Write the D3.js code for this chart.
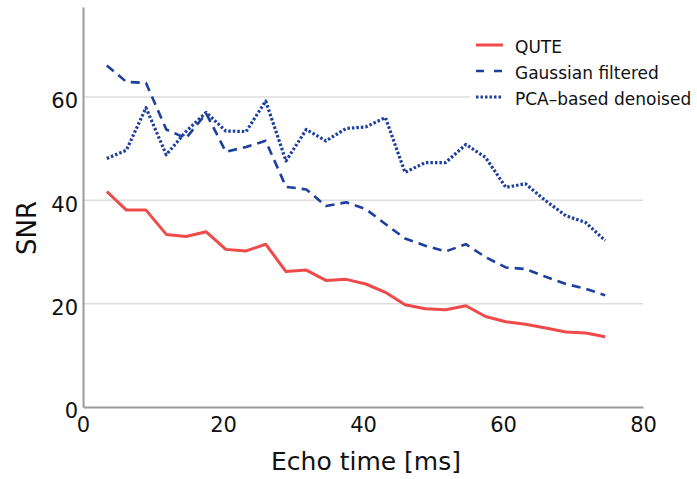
<!DOCTYPE html>
<html>
<head>
<meta charset="utf-8">
<script src="https://cdn.jsdelivr.net/npm/d3@7"></script>
<style>
  body { margin: 0; background: #fff; }
  svg { display: block; font-family: 'DejaVu Sans', sans-serif; }
</style>
</head>
<body>
<svg id="chart" width="697" height="479"></svg>
<script>
// echo times [ms]
var echoTimes = [3.4, 6.2, 9.0, 11.9, 14.7, 17.6, 20.4, 23.3, 26.1, 29.0, 31.9, 34.7, 37.6,
  40.4, 43.2, 46.0, 48.9, 51.8, 54.7, 57.5, 60.4, 63.2, 66.1, 69.0, 71.8, 74.6]

var quteSnr = [41.7, 38.1, 38.1, 33.4, 33.0, 33.9, 30.5, 30.2, 31.5, 26.2, 26.5, 24.5, 24.7,
  23.8, 22.2, 19.8, 19.0, 18.8, 19.6, 17.5, 16.5, 16.0, 15.3, 14.5, 14.3, 13.6]

var gaussSnr = [66.1, 62.9, 62.7, 53.7, 52.0, 56.8, 49.4, 50.3, 51.5, 42.6, 42.1, 38.9, 39.6,
  38.3, 35.4, 32.6, 31.2, 30.1, 31.5, 29.0, 27.0, 26.7, 25.2, 23.8, 22.9, 21.6]

var pcaSnr = [48.1, 49.7, 57.9, 48.8, 53.3, 57.0, 53.4, 53.3, 59.2, 47.6, 53.7, 51.5, 53.9,
  54.2, 56.0, 45.4, 47.3, 47.3, 50.8, 48.3, 42.5, 43.2, 39.9, 37.0, 35.7, 32.2]

var seriesNames = ['QUTE', 'Gaussian filtered', 'PCA\u2013based denoised']
var xTicks = [0, 20, 40, 60, 80]
var yTicks = [0, 20, 40, 60]

var series = [
  { name: seriesNames[0], values: quteSnr, color: '#ef4a4a', width: 3, dash: null },
  { name: seriesNames[1], values: gaussSnr, color: '#1d3f9e', width: 2.6, dash: '9,6' },
  { name: seriesNames[2], values: pcaSnr, color: '#1d3f9e', width: 3.2, dash: '2.5,2' }
]

var svg = d3.select('#chart')

var x = d3.scaleLinear().domain([0, 80]).range([83, 643])
var y = d3.scaleLinear().domain([0, 77.4]).range([407, 7])

// gridlines
svg.append('g')
  .selectAll('line')
  .data(yTicks.filter(function (d) { return d > 0 }))
  .enter().append('line')
  .attr('x1', x(0))
  .attr('x2', x(80))
  .attr('y1', function (d) { return y(d) })
  .attr('y2', function (d) { return y(d) })
  .attr('stroke', '#dedede')
  .attr('stroke-width', 1.5)

// axes
var xAxis = svg.append('g')
  .attr('transform', 'translate(0,' + y(0) + ')')
  .call(d3.axisBottom(x).tickValues(xTicks).tickSize(0).tickPadding(10))
xAxis.select('.domain').attr('stroke', '#9a9a9a').attr('stroke-width', 2)
xAxis.selectAll('text')
  .attr('font-size', 21)
  .attr('font-family', 'DejaVu Sans')
  .attr('fill', '#111')

var yAxis = svg.append('g')
  .attr('transform', 'translate(' + x(0) + ',0)')
  .call(d3.axisLeft(y).tickValues(yTicks).tickSize(0).tickPadding(5))
yAxis.select('.domain').attr('stroke', '#9a9a9a').attr('stroke-width', 2)
yAxis.selectAll('text')
  .attr('font-size', 21)
  .attr('font-family', 'DejaVu Sans')
  .attr('fill', '#111')
  .attr('y', 4)

// lines
var line = d3.line()
  .x(function (d, i) { return x(echoTimes[i]) })
  .y(function (d) { return y(d) })

svg.append('g')
  .selectAll('path')
  .data(series)
  .enter().append('path')
  .attr('d', function (d) { return line(d.values) })
  .attr('fill', 'none')
  .attr('stroke', function (d) { return d.color })
  .attr('stroke-width', function (d) { return d.width })
  .attr('stroke-dasharray', function (d) { return d.dash })
  .attr('stroke-linejoin', 'round')

// legend
var legend = svg.append('g')
legend.append('rect')
  .attr('x', 470)
  .attr('y', 28)
  .attr('width', 227)
  .attr('height', 86)
  .attr('fill', '#fff')

var item = legend.selectAll('g')
  .data(series)
  .enter().append('g')
  .attr('transform', function (d, i) { return 'translate(0,' + (53 + i * 26) + ')' })

item.append('line')
  .attr('x1', 476)
  .attr('x2', 503)
  .attr('y1', -8)
  .attr('y2', -8)
  .attr('stroke', function (d) { return d.color })
  .attr('stroke-width', function (d) { return d.width })
  .attr('stroke-dasharray', function (d) { return d.dash === '9,6' ? '8,10' : d.dash })

item.append('text')
  .attr('x', 515)
  .attr('y', 0)
  .attr('font-size', 17)
  .attr('fill', '#111')
  .text(function (d) { return d.name })

// axis titles
svg.append('text')
  .attr('x', 366)
  .attr('y', 470)
  .attr('text-anchor', 'middle')
  .attr('font-size', 25)
  .attr('fill', '#111')
  .text('Echo time [ms]')

svg.append('text')
  .attr('transform', 'translate(36,228) rotate(-90)')
  .attr('text-anchor', 'middle')
  .attr('font-size', 26)
  .attr('fill', '#111')
  .text('SNR')
</script>
</body>
</html>
